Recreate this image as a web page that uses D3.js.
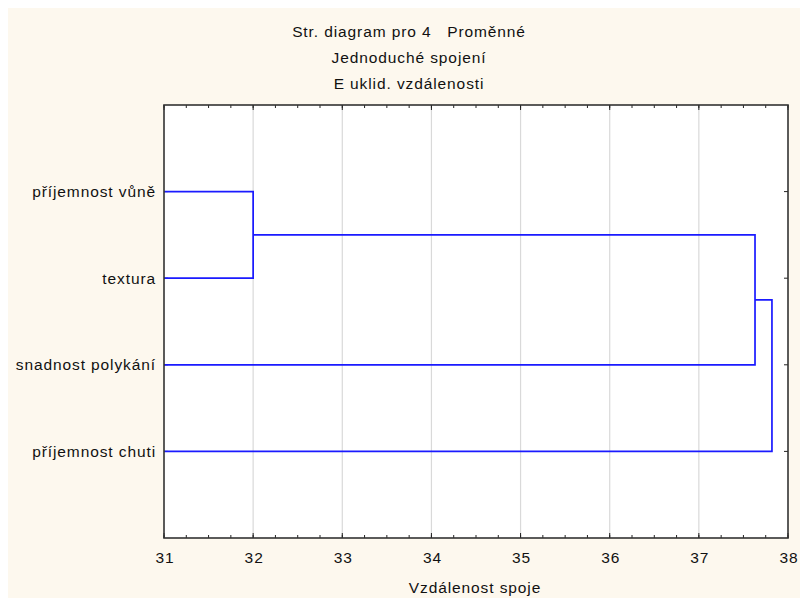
<!DOCTYPE html>
<html><head><meta charset="utf-8">
<script src="https://cdn.jsdelivr.net/npm/d3@7"></script>
<style>body{margin:0;background:#fff}svg{display:block}text{font-family:"Liberation Sans",Arial,sans-serif;fill:#111;letter-spacing:0.9px}</style>
</head><body><svg id="c" width="800" height="598"></svg>
<script>
const titleLines = ["Str. diagram pro 4   Proměnné", "Jednoduché spojení", "E uklid. vzdálenosti"];
const leaves = ["příjemnost vůně", "textura", "snadnost polykání", "příjemnost chuti"];
const mergeA = ["příjemnost vůně", "textura"];
const mergeDist = [32.0, 37.63, 37.82];
const xTicks = [31, 32, 33, 34, 35, 36, 37, 38];
const xTitle = "Vzdálenost spoje";

const svg = d3.select("#c");
const W = 800, H = 598;
svg.append("rect").attr("x", 8).attr("y", 8).attr("width", W - 8).attr("height", H - 8).attr("fill", "#fdf8ee");

const L = 164, R = 788, T = 105, B = 538;
const x = d3.scaleLinear().domain([31, 38]).range([L, R]);
const y = d3.scalePoint().domain(["", ...leaves, " "]).range([T, B]);

svg.append("rect").attr("x", L).attr("y", T).attr("width", R - L).attr("height", B - T).attr("fill", "#fff");

svg.append("g").selectAll("line").data(xTicks.slice(1, -1)).join("line")
  .attr("x1", d => x(d)).attr("x2", d => x(d)).attr("y1", T).attr("y2", B)
  .attr("stroke", "#d9d9d9").attr("stroke-width", 1.2);

const minor = d3.range(31, 38.001, 0.25);
svg.append("g").selectAll("line").data(minor).join("line")
  .attr("x1", d => x(d)).attr("x2", d => x(d)).attr("y1", B).attr("y2", B - 3)
  .attr("stroke", "#222");
svg.append("g").selectAll("line").data(minor).join("line")
  .attr("x1", d => x(d)).attr("x2", d => x(d)).attr("y1", T).attr("y2", T + 3)
  .attr("stroke", "#222");
svg.append("g").selectAll("line").data(xTicks).join("line")
  .attr("x1", d => x(d)).attr("x2", d => x(d)).attr("y1", B).attr("y2", B - 5)
  .attr("stroke", "#222");
svg.append("g").selectAll("line").data(xTicks).join("line")
  .attr("x1", d => x(d)).attr("x2", d => x(d)).attr("y1", T).attr("y2", T + 5)
  .attr("stroke", "#222");
svg.append("g").selectAll("line").data(leaves).join("line")
  .attr("x1", L).attr("x2", L + 4).attr("y1", d => y(d)).attr("y2", d => y(d)).attr("stroke", "#222");
svg.append("g").selectAll("line").data(leaves).join("line")
  .attr("x1", R).attr("x2", R - 4).attr("y1", d => y(d)).attr("y2", d => y(d)).attr("stroke", "#222");

const blue = "#1a1aff";
const g = svg.append("g").attr("fill", "none").attr("stroke", blue).attr("stroke-width", 1.7);
const x0 = x(31);
const c1y = (y(mergeA[0]) + y(mergeA[1])) / 2;
const d1 = x(mergeDist[0]);
g.append("path").attr("d", `M${x0},${y(mergeA[0])}H${d1}V${y(mergeA[1])}H${x0}`);
const d2 = x(mergeDist[1]);
const y3 = y(leaves[2]);
g.append("path").attr("d", `M${d1},${c1y}H${d2}V${y3}H${x0}`);
const c2y = (c1y + y3) / 2;
const d3x = x(mergeDist[2]);
const y4 = y(leaves[3]);
g.append("path").attr("d", `M${d2},${c2y}H${d3x}V${y4}H${x0}`);

svg.append("rect").attr("x", L).attr("y", T).attr("width", R - L).attr("height", B - T)
  .attr("fill", "none").attr("stroke", "#333").attr("stroke-width", 1.6);

const fs = 15.5;
svg.append("g").selectAll("text").data(leaves).join("text")
  .attr("x", L - 8).attr("y", d => y(d)).attr("dy", "0.35em").attr("text-anchor", "end")
  .attr("font-size", fs).text(d => d);
svg.append("g").selectAll("text").data(xTicks).join("text")
  .attr("x", d => x(d) + 1).attr("y", 563).attr("text-anchor", "middle")
  .attr("font-size", fs).text(d => d);
svg.append("text").attr("x", 475).attr("y", 593).attr("text-anchor", "middle")
  .attr("font-size", fs).text(xTitle);
svg.append("g").selectAll("text").data(titleLines).join("text")
  .attr("x", 409).attr("y", (d, i) => 37 + i * 26).attr("text-anchor", "middle")
  .attr("font-size", fs).style("white-space", "pre").text(d => d);
</script></body></html>
